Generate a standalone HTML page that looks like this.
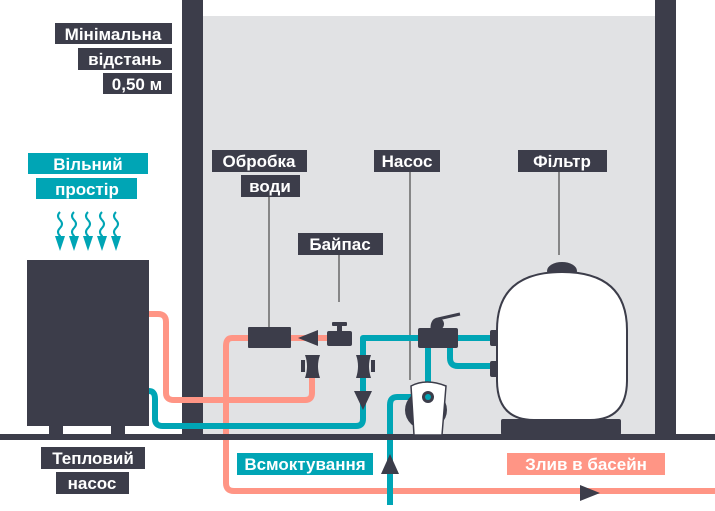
<!DOCTYPE html>
<html><head><meta charset="utf-8"><style>
html,body{margin:0;padding:0;background:#fff;}
svg{display:block;}
text{font-family:"Liberation Sans","DejaVu Sans",sans-serif;font-weight:bold;font-size:17px;fill:#fff;}
</style></head><body>
<svg width="715" height="511" viewBox="0 0 715 511" xmlns="http://www.w3.org/2000/svg">
<rect x="203" y="16" width="452" height="420" fill="#e1e2e4"/>
<rect x="182" y="0" width="21" height="436" fill="#3c3d4a"/>
<rect x="655" y="0" width="21" height="436" fill="#3c3d4a"/>
<g stroke="#555" stroke-width="1.3">
<line x1="269" y1="197" x2="269" y2="327"/>
<line x1="339" y1="255" x2="339" y2="302"/>
<line x1="410" y1="172" x2="410" y2="380"/>
<line x1="559" y1="172" x2="559" y2="255"/>
</g>
<g fill="none" stroke="#ff9585" stroke-width="6" stroke-linejoin="round">
<path d="M149 314 H158 Q166 314 166 322 V393 Q166 400 174 400 H305 Q312 400 312 393 V367"/>
<path d="M330 338 H232 Q226 338 226 346 V483 Q226 491 234 491 H715"/>
</g>
<g fill="none" stroke="#00a5b5" stroke-width="6" stroke-linejoin="round">
<path d="M149 391 Q155 391 155 399 V419 Q155 426 163 426 H356 Q363 426 363 419 V338 H494"/>
<path d="M428 345 V384"/>
<path d="M450 345 V358 Q450 366 458 366 H494"/>
<path d="M428 397 H397 Q390 397 390 405 V505"/>
</g>
<rect x="27" y="260" width="122" height="166" fill="#3c3d4a"/>
<rect x="49" y="424" width="14" height="12" fill="#3c3d4a"/>
<rect x="111" y="424" width="14" height="12" fill="#3c3d4a"/>
<rect x="0" y="434" width="715" height="6" fill="#3c3d4a"/>
<rect x="248" y="327" width="43" height="21" rx="1" fill="#3c3d4a"/>
<polygon points="298,338 318,330 318,346" fill="#3c3d4a"/>
<rect x="327" y="331" width="25" height="15" rx="2" fill="#3c3d4a"/>
<rect x="337" y="324" width="5" height="8" fill="#3c3d4a"/>
<rect x="332" y="322" width="15" height="4" rx="1" fill="#3c3d4a"/>
<g fill="#3c3d4a">
<path d="M305 355 H320 Q316 366 320 378 H305 Q309 366 305 355 Z"/><rect x="301" y="360" width="4" height="12"/>
<path d="M356 355 H371 Q367 366 371 378 H356 Q360 366 356 355 Z"/><rect x="371" y="360" width="4" height="12"/>
<polygon points="354,391 372,391 363,410"/>
<polygon points="390,454 381,474 399,474"/>
<polygon points="580,485 600,493 580,501"/>
</g>
<rect x="418" y="328" width="40" height="20" rx="2" fill="#3c3d4a"/>
<path d="M432 328 Q432 320 438 319 L460 314" stroke="#3c3d4a" stroke-width="3" fill="none"/>
<circle cx="438" cy="324" r="6" fill="#3c3d4a"/>
<ellipse cx="426" cy="410" rx="21" ry="20" fill="#3c3d4a"/>
<path d="M411 386 Q426 378 446 386 L442 435 H414 Z" fill="#fff" stroke="#3c3d4a" stroke-width="1.5"/>
<circle cx="428" cy="397" r="6" fill="#3c3d4a"/>
<circle cx="428" cy="397" r="3" fill="#00a5b5"/>
<ellipse cx="562" cy="271" rx="15" ry="9" fill="#3c3d4a"/>
<path d="M497 330 Q497 272 562 272 Q627 272 627 330 V380 Q627 420 590 420 H534 Q497 420 497 380 Z" fill="#fff" stroke="#3c3d4a" stroke-width="2"/>
<rect x="490" y="330" width="8" height="16" rx="2" fill="#3c3d4a"/>
<rect x="490" y="361" width="8" height="16" rx="2" fill="#3c3d4a"/>
<rect x="501" y="419" width="120" height="16" rx="2" fill="#3c3d4a"/>
<g stroke="#00a5b5" stroke-width="2" fill="none">
<path d="M60 212 q-4 4 0 8 q4 4 0 8 q-4 4 0 8 V240"/>
<path d="M74 212 q-4 4 0 8 q4 4 0 8 q-4 4 0 8 V240"/>
<path d="M88 212 q-4 4 0 8 q4 4 0 8 q-4 4 0 8 V240"/>
<path d="M102 212 q-4 4 0 8 q4 4 0 8 q-4 4 0 8 V240"/>
<path d="M116 212 q-4 4 0 8 q4 4 0 8 q-4 4 0 8 V240"/>
</g>
<g fill="#00a5b5">
<polygon points="55,236 65,236 60,251"/><polygon points="69,236 79,236 74,251"/><polygon points="83,236 93,236 88,251"/><polygon points="97,236 107,236 102,251"/><polygon points="111,236 121,236 116,251"/>
</g>
<g fill="#3c3d4a">
<rect x="55" y="23" width="117" height="21"/><rect x="78" y="48" width="94" height="22"/><rect x="103" y="73" width="69" height="21"/>
<rect x="212" y="150" width="95" height="22"/><rect x="241" y="175" width="59" height="22"/>
<rect x="374" y="150" width="66" height="22"/><rect x="518" y="150" width="89" height="22"/>
<rect x="298" y="233" width="85" height="22"/>
<rect x="41" y="447" width="104" height="22"/><rect x="56" y="472" width="73" height="22"/>
</g>
<rect x="28" y="153" width="120" height="21" fill="#00a5b5"/>
<rect x="36" y="178" width="101" height="21" fill="#00a5b5"/>
<rect x="237" y="453" width="136" height="22" fill="#00a5b5"/>
<rect x="507" y="453" width="158" height="22" fill="#ff9585"/>
<g text-anchor="middle">
<text x="113" y="40">Мінімальна</text>
<text x="125" y="65">відстань</text>
<text x="137" y="90">0,50 м</text>
<text x="88" y="170">Вільний</text>
<text x="87" y="195">простір</text>
<text x="259" y="167">Обробка</text>
<text x="270" y="192">води</text>
<text x="407" y="167">Насос</text>
<text x="562" y="167">Фільтр</text>
<text x="340" y="250">Байпас</text>
<text x="93" y="464">Тепловий</text>
<text x="92" y="489">насос</text>
<text x="305" y="470">Всмоктування</text>
<text x="586" y="470">Злив в басейн</text>
</g>
</svg>
</body></html>
